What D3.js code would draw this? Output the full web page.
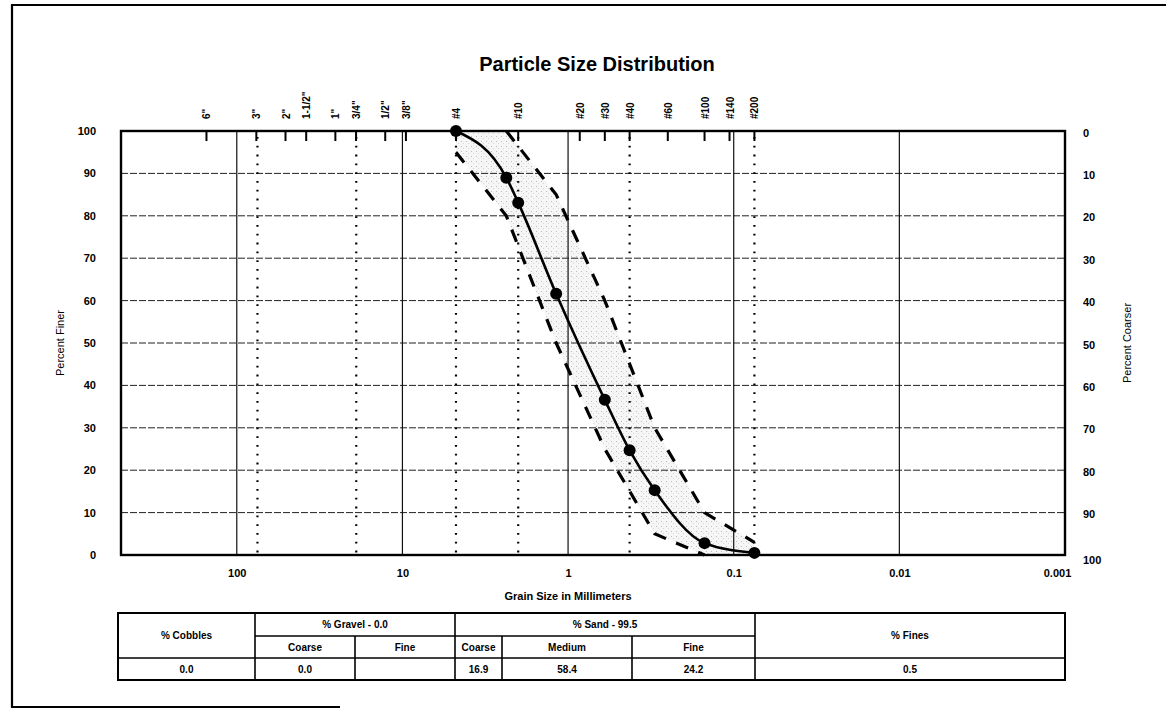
<!DOCTYPE html>
<html>
<head>
<meta charset="utf-8">
<script src="https://cdn.jsdelivr.net/npm/d3@7"></script>
<style>
  html, body { margin: 0; padding: 0; background: #fff; }
  svg { display: block; font-family: Arial, "Liberation Sans", sans-serif; }
</style>
</head>
<body>
<svg id="chart" width="1166" height="715"></svg>
<script>
// ---------------- DATA ----------------
const sieveSizes   = [4.75, 2.36, 2.0, 1.18, 0.6, 0.425, 0.3, 0.15, 0.075];   // mm
const percentFiner = [100, 89, 83.1, 61.6, 36.6, 24.7, 15.3, 2.8, 0.5];

// specification band (limits)
const specSizes = [4.75, 2.36, 1.18, 0.6, 0.3, 0.15, 0.075];
const specLower = [95, 80, 50, 25, 5, 0, 0];
const specUpper = [100, 100, 85, 60, 30, 10, 3];

// top sieve ticks
const topSieveLabels = ['6"', '3"', '2"', '1-1/2"', '1"', '3/4"', '1/2"', '3/8"', '#4', '#10', '#20', '#30', '#40', '#60', '#100', '#140', '#200'];
const topSieveSizes  = [152.4, 76.2, 50.8, 38.1, 25.4, 19.05, 12.7, 9.525, 4.75, 2.0, 0.85, 0.6, 0.425, 0.25, 0.15, 0.106, 0.075];

// bottom axis
const grainTicks      = [100, 10, 1, 0.1, 0.01, 0.001];
const grainTickLabels = ["100", "10", "1", "0.1", "0.01", "0.001"];
// classification boundaries (dotted)
const boundarySizes = [75, 19, 4.75, 2.0, 0.425, 0.075];

// percent axes
const finerTicks   = [0, 10, 20, 30, 40, 50, 60, 70, 80, 90, 100];

// table
const tableHeader1 = ["% Cobbles", "% Gravel - 0.0", "% Sand - 99.5", "% Fines"];
const tableHeader2 = ["Coarse", "Fine", "Coarse", "Medium", "Fine"];
const tableValues  = ["0.0", "0.0", "", "16.9", "58.4", "24.2", "0.5"];

// ---------------- LAYOUT ----------------
const svg = d3.select("#chart");
const L = 121, R = 1065, T = 131, B = 555;

const x = d3.scaleLog().domain([500, 0.001]).range([L, R]);
const y = d3.scaleLinear().domain([0, 100]).range([B, T]);
const yR = d3.scaleLinear().domain([100, 0]).range([B, T]);

// outer frame
svg.append("path")
  .attr("d", `M 340 707 L 12 707 L 12 5 L 1170 5`)
  .attr("fill", "none").attr("stroke", "#000").attr("stroke-width", 2.2);

// title
svg.append("text").attr("x", 597).attr("y", 71).attr("text-anchor", "middle")
  .attr("font-size", 20).attr("font-weight", "bold").text("Particle Size Distribution");

// stipple pattern
const defs = svg.append("defs");
const pat = defs.append("pattern").attr("id", "stipple").attr("width", 5).attr("height", 5)
  .attr("patternUnits", "userSpaceOnUse");
pat.append("rect").attr("width", 5).attr("height", 5).attr("fill", "#f6f6f6");
pat.append("rect").attr("x", 1).attr("y", 1).attr("width", 1).attr("height", 1).attr("fill", "#bdbdbd");
pat.append("rect").attr("x", 3).attr("y", 3).attr("width", 1).attr("height", 1).attr("fill", "#d6d6d6");

const plot = svg.append("g");

// spec band fill
const specData = specSizes.map((s, i) => ({ s, lo: specLower[i], hi: specUpper[i] }));
const band = d3.area().x(d => x(d.s)).y0(d => y(d.lo)).y1(d => y(d.hi));
plot.append("path").datum(specData).attr("d", band).attr("fill", "url(#stipple)");

// horizontal grid
plot.append("g").selectAll("line").data(finerTicks.filter(t => t > 0 && t < 100)).join("line")
  .attr("x1", L).attr("x2", R).attr("y1", d => y(d)).attr("y2", d => y(d))
  .attr("stroke", "#222").attr("stroke-width", 1).attr("stroke-dasharray", "7,2");

// decade grid (solid)
plot.append("g").selectAll("line").data(grainTicks.filter(t => t < 500 && t > 0.001)).join("line")
  .attr("x1", d => x(d)).attr("x2", d => x(d)).attr("y1", T).attr("y2", B)
  .attr("stroke", "#111").attr("stroke-width", 1.2);

// boundary dotted lines
plot.append("g").selectAll("line").data(boundarySizes).join("line")
  .attr("x1", d => x(d)).attr("x2", d => x(d)).attr("y1", T + 6).attr("y2", B)
  .attr("stroke", "#000").attr("stroke-width", 2.2).attr("stroke-dasharray", "1.8,7")
  .attr("stroke-linecap", "butt");

// spec limit dashed lines
const specLine = key => d3.line().x(d => x(d.s)).y(d => y(d[key]));
plot.append("path").datum(specData.filter(d => d.s <= 4.75 && d.s >= 0.15)).attr("d", specLine("lo"))
  .attr("fill", "none").attr("stroke", "#000").attr("stroke-width", 3.2).attr("stroke-dasharray", "13,11");
plot.append("path").datum(specData.filter(d => d.s <= 2.36)).attr("d", specLine("hi"))
  .attr("fill", "none").attr("stroke", "#000").attr("stroke-width", 3.2).attr("stroke-dasharray", "13,11");

// data curve
const pts = sieveSizes.map((s, i) => ({ s, p: percentFiner[i] }));
plot.append("path").datum(pts)
  .attr("d", d3.line().x(d => x(d.s)).y(d => y(d.p)).curve(d3.curveMonotoneX))
  .attr("fill", "none").attr("stroke", "#000").attr("stroke-width", 2.6);
plot.append("g").selectAll("circle").data(pts).join("circle")
  .attr("cx", d => x(d.s)).attr("cy", d => y(d.p)).attr("r", 6).attr("fill", "#000");

// plot border
svg.append("rect").attr("x", L).attr("y", T).attr("width", R - L).attr("height", B - T)
  .attr("fill", "none").attr("stroke", "#000").attr("stroke-width", 2.4);

// top sieve ticks & labels
const topG = svg.append("g");
topG.selectAll("line").data(topSieveSizes).join("line")
  .attr("x1", d => x(d)).attr("x2", d => x(d)).attr("y1", T).attr("y2", T + 10)
  .attr("stroke", "#000").attr("stroke-width", 2);
topG.selectAll("text").data(topSieveSizes).join("text")
  .attr("transform", d => `translate(${x(d) + 4},${T - 12}) rotate(-90)`)
  .attr("text-anchor", "start").attr("font-size", 10).attr("font-weight", "bold")
  .text((d, i) => topSieveLabels[i]);

// left axis labels
const leftAxis = d3.axisLeft(y).tickValues(finerTicks).tickSize(0).tickPadding(25);
const gl = svg.append("g").attr("transform", `translate(${L},0)`).call(leftAxis);
gl.select(".domain").remove();
gl.selectAll("text").attr("font-size", 11).attr("font-weight", "bold").attr("font-family", "Arial, 'Liberation Sans', sans-serif");

// right axis labels
const rightAxis = d3.axisRight(yR).tickValues(finerTicks).tickSize(0).tickPadding(18);
const gr = svg.append("g").attr("transform", `translate(${R},0)`).call(rightAxis);
gr.select(".domain").remove();
gr.selectAll(".tick").attr("transform", d => `translate(0,${yR(d) + (d === 100 ? 5 : 2)})`);
gr.selectAll("text").attr("font-size", 11).attr("font-weight", "bold").attr("font-family", "Arial, 'Liberation Sans', sans-serif");

// bottom axis labels
const bottomAxis = d3.axisBottom(x).tickValues(grainTicks).tickSize(0).tickPadding(14)
  .tickFormat((d, i) => grainTickLabels[i]);
const gb = svg.append("g").attr("transform", `translate(0,${B})`).call(bottomAxis);
gb.select(".domain").remove();
gb.selectAll("text").attr("font-size", 11).attr("font-weight", "bold").attr("font-family", "Arial, 'Liberation Sans', sans-serif");
gb.selectAll(".tick").filter(d => d === 0.001).select("text").attr("dx", -8);

// axis titles
svg.append("text").attr("x", 568).attr("y", 600).attr("text-anchor", "middle")
  .attr("font-size", 11).attr("font-weight", "bold").text("Grain Size in Millimeters");
svg.append("text").attr("transform", `translate(64,${(T + B) / 2}) rotate(-90)`).attr("text-anchor", "middle")
  .attr("font-size", 11).text("Percent Finer");
svg.append("text").attr("transform", `translate(1131,${(T + B) / 2}) rotate(-90)`).attr("text-anchor", "middle")
  .attr("font-size", 11).text("Percent Coarser");

// ---------------- TABLE ----------------
const colX = [118, 255, 355, 455, 502, 632, 755, 1065];
const rowY = [613, 636, 658, 680];
const tg = svg.append("g");
const lineAttr = sel => sel.attr("stroke", "#000").attr("stroke-width", 1.6);
tg.append("rect").attr("x", colX[0]).attr("y", rowY[0]).attr("width", colX[7] - colX[0]).attr("height", rowY[3] - rowY[0])
  .attr("fill", "none").attr("stroke", "#000").attr("stroke-width", 2);
tg.append("line").attr("x1", colX[1]).attr("x2", colX[6]).attr("y1", rowY[1]).attr("y2", rowY[1]).call(lineAttr);
tg.append("line").attr("x1", colX[0]).attr("x2", colX[7]).attr("y1", rowY[2]).attr("y2", rowY[2]).call(lineAttr);
[[1, 0], [3, 0], [6, 0], [2, 1], [4, 1], [5, 1]].forEach(([c, r]) => {
  tg.append("line").attr("x1", colX[c]).attr("x2", colX[c]).attr("y1", rowY[r]).attr("y2", rowY[3]).call(lineAttr);
});
const tText = (cx, cy, t) => tg.append("text").attr("x", cx).attr("y", cy).attr("text-anchor", "middle")
  .attr("dominant-baseline", "central").attr("font-size", 10).attr("font-weight", "bold").text(t);
tText((colX[0] + colX[1]) / 2, (rowY[0] + rowY[2]) / 2, tableHeader1[0]);
tText((colX[1] + colX[3]) / 2, (rowY[0] + rowY[1]) / 2, tableHeader1[1]);
tText((colX[3] + colX[6]) / 2, (rowY[0] + rowY[1]) / 2, tableHeader1[2]);
tText((colX[6] + colX[7]) / 2, (rowY[0] + rowY[2]) / 2, tableHeader1[3]);
[1, 2, 3, 4, 5].forEach((c, i) => tText((colX[c] + colX[c + 1]) / 2, (rowY[1] + rowY[2]) / 2, tableHeader2[i]));
tableValues.forEach((v, i) => tText((colX[i] + colX[i + 1]) / 2, (rowY[2] + rowY[3]) / 2, v));
</script>
</body>
</html>
